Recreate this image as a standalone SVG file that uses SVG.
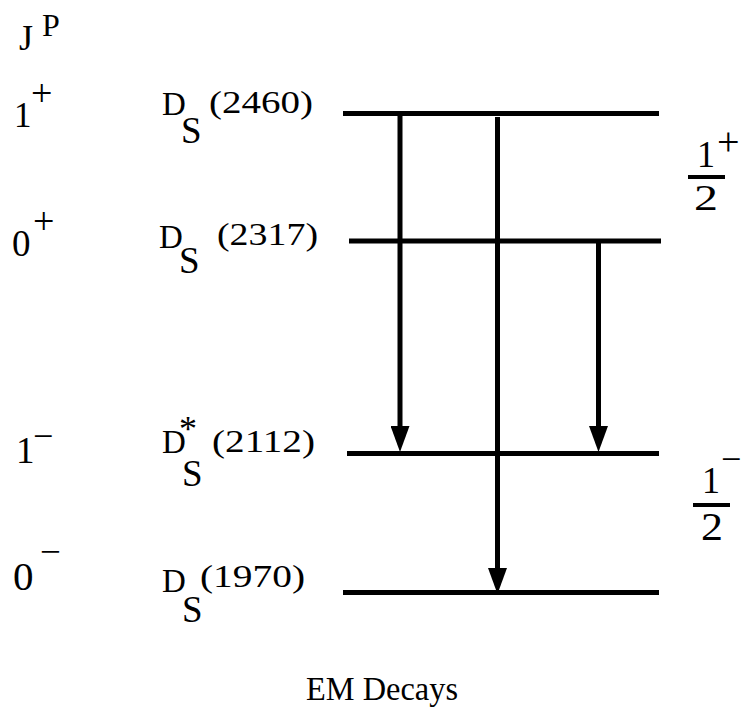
<svg xmlns="http://www.w3.org/2000/svg" width="742" height="710" viewBox="0 0 742 710">
<style>
text{font-family:"Liberation Serif","Times New Roman",serif;fill:#000}
.lvl{stroke:#000;stroke-width:5;fill:none}
.arr{stroke:#000;stroke-width:5;fill:none;marker-end:url(#ah)}
.bar{stroke:#000;stroke-width:4}
.d{font-size:33px}
.s{font-size:37px}
.n{font-size:32px}
</style>
<defs>
<marker id="ah" markerUnits="userSpaceOnUse" markerWidth="26" markerHeight="19" viewBox="0 0 26 19" refX="0" refY="9.5" orient="auto">
<path d="M0,0 L26,9.5 L0,19 z" fill="#000"/>
</marker>
</defs>
<rect width="742" height="710" fill="#fff"/>
<g id="header">
<text x="19" y="50" font-size="36">J</text>
<text x="42" y="36" font-size="32">P</text>
</g>
<g id="jp-labels">
<text x="14" y="127" font-size="35">1</text>
<text x="31" y="106" font-size="38">+</text>
<text x="12" y="256" font-size="37">0</text>
<text x="33" y="234" font-size="38">+</text>
<text x="16" y="463" font-size="37">1</text>
<text x="33" y="448" font-size="36">−</text>
<text x="13" y="590" font-size="41">0</text>
<text x="40" y="564" font-size="37">−</text>
</g>
<g id="level-2460">
<line class="lvl" x1="343" y1="113.5" x2="659" y2="113.5"/>
<text class="d" x="162" y="115">D</text>
<text class="s" x="181" y="143">S</text>
<text class="n" x="209" y="113" textLength="104" lengthAdjust="spacingAndGlyphs">(2460)</text>
</g>
<g id="level-2317">
<line class="lvl" x1="349" y1="241" x2="661" y2="241"/>
<text class="d" x="159" y="248">D</text>
<text class="s" x="179" y="273">S</text>
<text class="n" x="217" y="245" textLength="101" lengthAdjust="spacingAndGlyphs">(2317)</text>
</g>
<g id="level-2112">
<line class="lvl" x1="347" y1="453.5" x2="659" y2="453.5"/>
<text class="d" x="162" y="453">D</text>
<text x="179" y="441" font-size="36">*</text>
<text class="s" x="182" y="486">S</text>
<text class="n" x="212" y="452" textLength="103" lengthAdjust="spacingAndGlyphs">(2112)</text>
</g>
<g id="level-1970">
<line class="lvl" x1="343" y1="592.5" x2="659" y2="592.5"/>
<text class="d" x="162" y="592">D</text>
<text class="s" x="182" y="622">S</text>
<text class="n" x="200" y="587" textLength="105" lengthAdjust="spacingAndGlyphs">(1970)</text>
</g>
<g id="frac-plus">
<text x="697" y="167" font-size="37" textLength="18" lengthAdjust="spacingAndGlyphs">1</text>
<text x="717" y="155" font-size="40">+</text>
<line class="bar" x1="688" y1="177" x2="725" y2="177"/>
<text x="694" y="210" font-size="35" textLength="24" lengthAdjust="spacingAndGlyphs">2</text>
</g>
<g id="frac-minus">
<text x="702" y="493" font-size="38" textLength="18" lengthAdjust="spacingAndGlyphs">1</text>
<text x="721" y="471" font-size="36">−</text>
<line class="bar" x1="693" y1="505" x2="730" y2="505"/>
<text x="701" y="540" font-size="39" textLength="22" lengthAdjust="spacingAndGlyphs">2</text>
</g>
<g id="connectors">
<line class="arr" x1="400" y1="113" x2="400" y2="426"/>
<line class="arr" x1="497.5" y1="117" x2="497.5" y2="568"/>
<line class="arr" x1="598.5" y1="241" x2="598.5" y2="426"/>
</g>
<g id="caption">
<text x="306" y="700" font-size="34" textLength="152" lengthAdjust="spacingAndGlyphs">EM Decays</text>
</g>
</svg>
